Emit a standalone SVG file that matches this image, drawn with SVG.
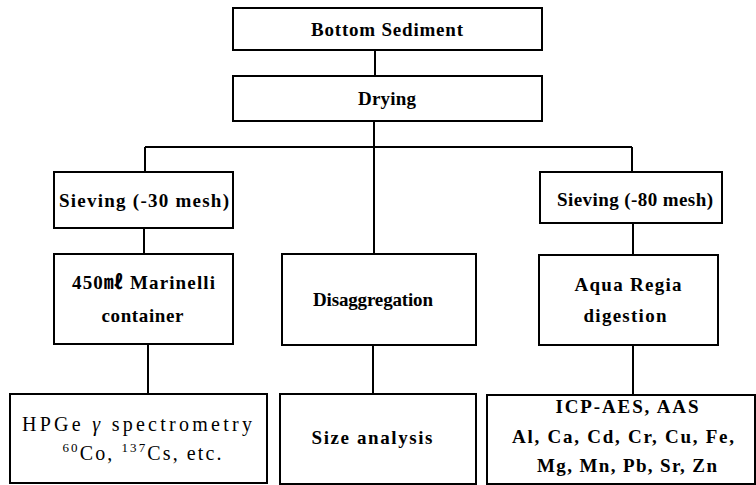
<svg xmlns="http://www.w3.org/2000/svg" width="756" height="485" viewBox="0 0 756 485">
<style>
.box{fill:#fff;stroke:#000;stroke-width:2}
.t{font-family:"Liberation Serif","Times New Roman",serif;font-size:19px;font-weight:bold;text-anchor:middle;fill:#000}
.n{font-weight:normal;font-size:20px}
.cjk{font-family:"Noto Sans CJK KR",sans-serif}
.c{stroke:#000;stroke-width:2;fill:none}
</style>
<rect width="756" height="485" fill="#fff"/>
<g id="connectors">
<path class="c" d="M375 50V76"/>
<path class="c" d="M374 121V254"/>
<path class="c" d="M145 147H632"/>
<path class="c" d="M145 147V172"/>
<path class="c" d="M632 147V172"/>
<path class="c" d="M144 228V254"/>
<path class="c" d="M633 223V255"/>
<path class="c" d="M148 344V394"/>
<path class="c" d="M373 345V394"/>
<path class="c" d="M633 345V395"/>
</g>
<g id="bottom-sediment">
<rect class="box" x="233" y="8" width="309" height="42"/>
<text class="t" x="387" y="36" textLength="152" lengthAdjust="spacing">Bottom Sediment</text>
</g>
<g id="drying">
<rect class="box" x="233" y="76" width="309" height="45"/>
<text class="t" x="387" y="105" textLength="58" lengthAdjust="spacing">Drying</text>
</g>
<g id="sieving-30">
<rect class="box" x="54" y="172" width="179" height="56"/>
<text class="t" x="144" y="207" textLength="170" lengthAdjust="spacing">Sieving (-30 mesh)</text>
</g>
<g id="sieving-80">
<rect class="box" x="540" y="172" width="182" height="51"/>
<text class="t" x="635" y="206" textLength="156" lengthAdjust="spacing">Sieving (-80 mesh)</text>
</g>
<g id="marinelli">
<rect class="box" x="54" y="254" width="179" height="90"/>
<text class="t" x="143.5" y="289" textLength="143" lengthAdjust="spacing">450<tspan class="cjk">㎖</tspan> Marinelli</text>
<text class="t" x="142.5" y="322" textLength="82" lengthAdjust="spacing">container</text>
</g>
<g id="disaggregation">
<rect class="box" x="282" y="254" width="194" height="91"/>
<text class="t" x="373" y="306" textLength="120" lengthAdjust="spacing">Disaggregation</text>
</g>
<g id="aqua-regia">
<rect class="box" x="539" y="255" width="179" height="90"/>
<text class="t" x="628" y="291" textLength="107" lengthAdjust="spacing">Aqua Regia</text>
<text class="t" x="625" y="322" textLength="83" lengthAdjust="spacing">digestion</text>
</g>
<g id="hpge">
<rect class="box" x="10" y="394" width="257" height="89"/>
<text class="t n" x="137" y="431" textLength="230" lengthAdjust="spacing">HPGe <tspan font-style="italic">γ</tspan> spectrometry</text>
<text class="t n" x="142" y="460" textLength="159" lengthAdjust="spacing"><tspan font-size="13" dy="-8">60</tspan><tspan dy="8">Co, </tspan><tspan font-size="13" dy="-8">137</tspan><tspan dy="8">Cs, etc.</tspan></text>
</g>
<g id="size-analysis">
<rect class="box" x="280" y="394" width="196" height="90"/>
<text class="t" x="372" y="444" textLength="121" lengthAdjust="spacing">Size analysis</text>
</g>
<g id="icp">
<rect class="box" x="487" y="395" width="268" height="89"/>
<text class="t" x="627" y="413" textLength="143" lengthAdjust="spacing">ICP-AES, AAS</text>
<text class="t" x="623" y="443" textLength="222" lengthAdjust="spacing">Al, Ca, Cd, Cr, Cu, Fe,</text>
<text class="t" x="627" y="472" textLength="180" lengthAdjust="spacing">Mg, Mn, Pb, Sr, Zn</text>
</g>
</svg>
